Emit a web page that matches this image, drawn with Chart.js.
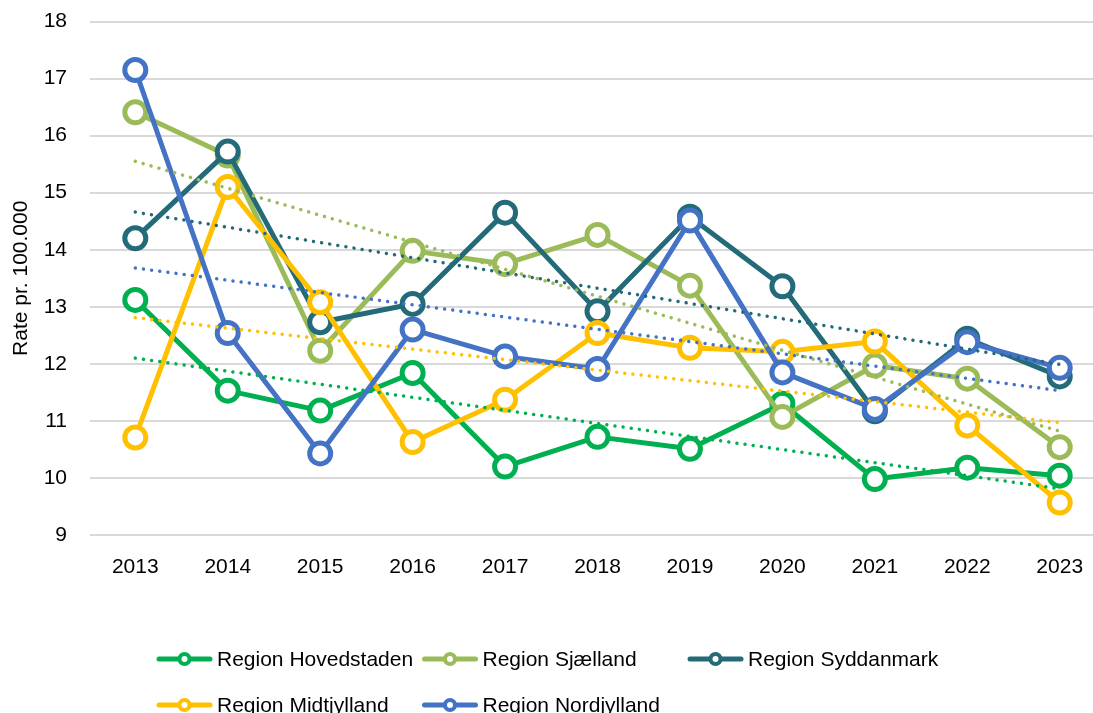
<!DOCTYPE html>
<html>
<head>
<meta charset="utf-8">
<script src="https://cdn.jsdelivr.net/npm/chart.js@4"></script>
<style>
  html, body { margin: 0; padding: 0; background: #fff; }
  #wrap { width: 1093px; height: 713px; }
</style>
</head>
<body>
<div id="wrap"><canvas id="c" width="1093" height="713"></canvas></div>
<script>
// ---- data ----
const years = [2013, 2014, 2015, 2016, 2017, 2018, 2019, 2020, 2021, 2022, 2023];
const seriesNames = ["Region Hovedstaden", "Region Sjælland", "Region Syddanmark", "Region Midtjylland", "Region Nordjylland"];
const hovedstaden = [13.12, 11.53, 11.18, 11.84, 10.20, 10.72, 10.51, 11.30, 9.98, 10.18, 10.04];
const sjaelland   = [16.41, 15.65, 12.23, 13.98, 13.75, 14.26, 13.37, 11.07, 11.97, 11.74, 10.54];
const syddanmark  = [14.20, 15.72, 12.73, 13.05, 14.65, 12.92, 14.58, 13.36, 11.17, 12.44, 11.78];
const midtjylland = [10.71, 15.10, 13.08, 10.63, 11.37, 12.54, 12.28, 12.21, 12.39, 10.92, 9.57];
const nordjylland = [17.15, 12.54, 10.43, 12.60, 12.13, 11.91, 14.51, 11.85, 11.21, 12.38, 11.93];
// trendline start (2013) and end (2023) values
const trendHovedstaden = [12.10, 9.81];
const trendSjaelland   = [15.55, 10.82];
const trendSyddanmark  = [14.66, 11.99];
const trendMidtjylland = [12.81, 10.97];
const trendNordjylland = [13.68, 11.53];
const yTicks = [9, 10, 11, 12, 13, 14, 15, 16, 17, 18];
const yTitle = "Rate pr. 100.000";

// ---- styles ----
const colors = ["#00B050", "#9BBB59", "#246B79", "#FFC000", "#4472C4"];
const FONT = "'Liberation Sans', Arial, sans-serif";
const allSeries = [hovedstaden, sjaelland, syddanmark, midtjylland, nordjylland];
const allTrends = [trendHovedstaden, trendSjaelland, trendSyddanmark, trendMidtjylland, trendNordjylland];

const datasets = [];
allSeries.forEach((vals, i) => {
  datasets.push({
    label: seriesNames[i],
    data: years.map((y, j) => ({ x: y, y: vals[j] })),
    borderColor: colors[i],
    backgroundColor: colors[i],
    borderWidth: 5,
    borderJoinStyle: 'round',
    borderCapStyle: 'round',
    pointRadius: 10.5,
    pointBorderWidth: 5,
    pointBackgroundColor: '#ffffff',
    pointBorderColor: colors[i],
    tension: 0,
    clip: false,
    order: 5 - i
  });
});
allTrends.forEach((t, i) => {
  datasets.push({
    label: 'trend ' + seriesNames[i],
    data: [{ x: years[0], y: t[0] }, { x: years[years.length - 1], y: t[1] }],
    borderColor: colors[i],
    borderWidth: 3.5,
    borderDash: [0.01, 8.2],
    borderCapStyle: 'round',
    pointRadius: 0,
    tension: 0,
    order: 0
  });
});

const excelLegend = {
  id: 'excelLegend',
  afterDraw(chart) {
    const ctx = chart.ctx;
    const x0 = 157, colW = 265.5, rowYs = [659, 705];
    ctx.save();
    ctx.font = "21px " + FONT;
    ctx.textBaseline = 'middle';
    ctx.textAlign = 'left';
    seriesNames.forEach((name, i) => {
      const col = i % 3, row = Math.floor(i / 3);
      const x = x0 + col * colW, y = rowYs[row];
      ctx.strokeStyle = colors[i];
      ctx.lineWidth = 5;
      ctx.lineCap = 'round';
      ctx.beginPath(); ctx.moveTo(x + 2, y); ctx.lineTo(x + 53, y); ctx.stroke();
      ctx.beginPath(); ctx.arc(x + 27.5, y, 5, 0, Math.PI * 2);
      ctx.fillStyle = '#ffffff'; ctx.fill();
      ctx.lineWidth = 4; ctx.stroke();
      ctx.fillStyle = '#000000';
      ctx.fillText(name, x + 60, y + 1);
    });
    ctx.restore();
  }
};

new Chart(document.getElementById('c'), {
  type: 'line',
  data: { datasets },
  options: {
    responsive: false,
    animation: false,
    layout: { autoPadding: false, padding: { top: 21.5, right: 0, bottom: 0, left: 0 } },
    plugins: { legend: { display: false }, tooltip: { enabled: false } },
    scales: {
      x: {
        type: 'linear',
        min: 2012.51,
        max: 2023.36,
        afterBuildTicks: s => { s.ticks = years.map(v => ({ value: v })); },
        afterFit: s => { s.height = 178; s.paddingLeft = 0; s.paddingRight = 0; },
        grid: { display: false, drawTicks: false },
        border: { display: false },
        ticks: {
          autoSkip: false,
          maxRotation: 0,
          padding: 20,
          color: '#000',
          font: { family: FONT, size: 21 },
          callback: v => String(v)
        }
      },
      y: {
        min: 9,
        max: 18,
        afterBuildTicks: s => { s.ticks = yTicks.map(v => ({ value: v })); },
        afterFit: s => { s.width = 90; s.paddingTop = 0; s.paddingBottom = 0; },
        grid: { color: '#D9D9D9', lineWidth: 2, drawTicks: false },
        border: { display: false },
        ticks: {
          padding: 23,
          color: '#000',
          font: { family: FONT, size: 21 }
        },
        title: {
          display: true,
          text: yTitle,
          color: '#000',
          font: { family: FONT, size: 21 },
          padding: { top: 9, bottom: 0 }
        }
      }
    }
  },
  plugins: [excelLegend]
});
</script>
</body>
</html>
